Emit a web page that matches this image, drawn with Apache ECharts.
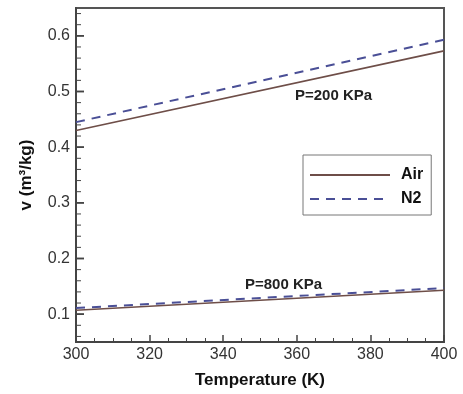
<!DOCTYPE html>
<html><head><meta charset="utf-8">
<script src="https://cdn.jsdelivr.net/npm/echarts@6/dist/echarts.min.js"></script>
<style>html,body{margin:0;padding:0;background:#fff}#c{width:463px;height:394px}</style>
</head><body><div id="c"></div>
<script>
var temperatures = [300, 400];
var air200 = [0.430, 0.573];
var n2_200 = [0.445, 0.593];
var air800 = [0.107, 0.143];
var n2_800 = [0.111, 0.147];
var xTicks = [300, 320, 340, 360, 380, 400];
var yTicks = [0.1, 0.2, 0.3, 0.4, 0.5, 0.6];

var airColor = '#6e4e48';
var n2Color = '#4a4f96';
function pairs(xs, ys){ return xs.map(function(x,i){return [x, ys[i]];}); }

var chart = echarts.init(document.getElementById('c'));
var axisFont = {fontFamily:'Liberation Sans', fontSize:16, color:'#333'};
chart.setOption({
  animation:false,
  grid:{left:76, top:8, right:19, bottom:47, show:true, borderColor:'#555', borderWidth:2, containLabel:false},
  xAxis:{type:'value', min:300, max:400, interval:20,
    name:'Temperature (K)', nameLocation:'middle', nameGap:30,
    nameTextStyle:{fontFamily:'Liberation Sans', fontWeight:'bold', fontSize:17, color:'#111'},
    axisLine:{lineStyle:{color:'#444', width:2}},
    axisTick:{inside:true, length:7, lineStyle:{color:'#444', width:1.5}},
    minorTick:{show:true, splitNumber:4, length:4, lineStyle:{color:'#444', width:1}},
    splitLine:{show:false},
    axisLabel:Object.assign({margin:5, formatter:function(v){return xTicks.indexOf(v)>=0?String(v):'';}}, axisFont)
  },
  yAxis:{type:'value', min:0.05, max:0.65, interval:0.05,
    name:'v (m³/kg)', nameLocation:'middle', nameGap:41,
    nameTextStyle:{fontFamily:'Liberation Sans', fontWeight:'bold', fontSize:17, color:'#111'},
    axisLine:{lineStyle:{color:'#444', width:2}},
    axisTick:{show:false},
    minorTick:{show:false},
    splitLine:{show:false},
    axisLabel:Object.assign({margin:6, formatter:function(v){
      var r = Math.round(v*100)/100; return yTicks.some(function(t){return Math.abs(t-r)<1e-9;}) ? r.toFixed(1) : '';}}, axisFont)
  },
  legend:{orient:'vertical', left:303, top:155, width:106,
    backgroundColor:'#fff', borderColor:'#777', borderWidth:1,
    padding:[12,8,8,6], itemGap:8, itemWidth:80, itemHeight:14,
    itemStyle:{opacity:0},
    textStyle:{fontFamily:'Liberation Sans', fontWeight:'bold', fontSize:16, color:'#111', padding:[0,0,0,6]},
    data:['Air','N2']},
  series:[
    {name:'Air', type:'line', symbol:'none', data:pairs(temperatures, air200), lineStyle:{color:airColor, width:1.6}, itemStyle:{color:airColor}, z:3},
    {name:'N2', type:'line', symbol:'none', data:pairs(temperatures, n2_200), lineStyle:{color:n2Color, width:2, type:[9,7]}, itemStyle:{color:n2Color}, z:2},
    {name:'Air', type:'line', symbol:'none', data:pairs(temperatures, air800), lineStyle:{color:airColor, width:1.6}, itemStyle:{color:airColor}, z:3},
    {name:'N2', type:'line', symbol:'none', data:pairs(temperatures, n2_800), lineStyle:{color:n2Color, width:2, type:[9,7]}, itemStyle:{color:n2Color}, z:2}
  ]
});
var g = [];
for (var k=0;k<=30;k++){
  var val = 0.06 + k*0.02;
  if (val > 0.65) break;
  var p = chart.convertToPixel({yAxisIndex:0}, val);
  var isMajor = Math.abs(Math.round(val*10)/10 - val) < 1e-9;
  g.push({type:'line', shape:{x1:77, y1:p, x2:77+(isMajor?7:4), y2:p}, style:{stroke:'#444', lineWidth:isMajor?1.5:1}});
}
yTicks.forEach(function(t){
  var p = chart.convertToPixel({yAxisIndex:0}, t);
  g.push({type:'line', shape:{x1:77, y1:p, x2:84, y2:p}, style:{stroke:'#444', lineWidth:1.5}});
});
g.push({type:'text', left:295, top:88, style:{text:'P=200 KPa', font:'bold 15px "Liberation Sans"', fill:'#222'}});
g.push({type:'text', left:245, top:277, style:{text:'P=800 KPa', font:'bold 15px "Liberation Sans"', fill:'#222'}});
chart.setOption({graphic:g});
</script></body></html>
